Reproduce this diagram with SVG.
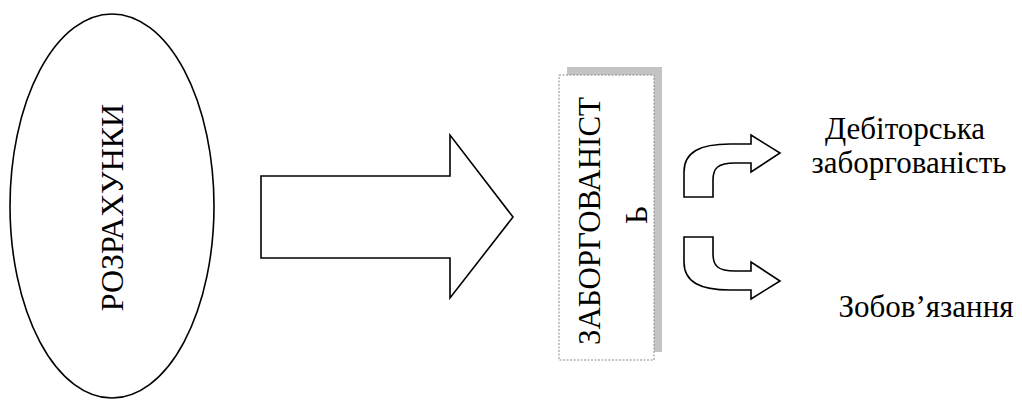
<svg xmlns="http://www.w3.org/2000/svg" width="1022" height="400" viewBox="0 0 1022 400">
<style>
.shape{fill:#fff;stroke:#000;stroke-width:1.6;stroke-linejoin:miter}
.box{fill:#fff;stroke:#8a8a8a;stroke-width:1;stroke-dasharray:2 1.5}
.shadow{fill:#c4c4c4}
</style>
<rect width="1022" height="400" fill="#fff"/>
<g id="node-rozrakhunky">
<ellipse class="shape" cx="112" cy="206" rx="102" ry="192"/>
<text font-family="'Liberation Serif', serif" font-size="32" transform="translate(123,207.5) rotate(-90)" text-anchor="middle">РОЗРАХУНКИ</text>
</g>
<g id="node-zaborhovanist">
<rect class="shadow" x="567" y="67" width="95" height="285"/>
<rect class="box" x="559" y="75" width="95" height="285"/>
<text font-family="'Liberation Serif', serif" font-size="31" transform="translate(600,221) rotate(-90)" text-anchor="middle">ЗАБОРГОВАНІСТ</text>
<text font-family="'Liberation Serif', serif" font-size="31" transform="translate(647,215) rotate(-90)" text-anchor="middle">Ь</text>
</g>
<g id="node-debitorska">
<text font-family="'Liberation Serif', serif" font-size="31" x="905" y="139" text-anchor="middle">Дебіторська</text>
<text font-family="'Liberation Serif', serif" font-size="31" x="909" y="173" text-anchor="middle">заборгованість</text>
</g>
<g id="node-zobovyazannya">
<text font-family="'Liberation Serif', serif" font-size="31" x="926" y="317" text-anchor="middle">Зобов’язання</text>
</g>
<g id="connectors">
<polygon class="shape" points="261,176 450,176 450,135 513,217 450,298 450,258 261,258"/>
<path id="curved-up" class="shape" d="M684,197 L684,172 C684,152 700,144 730,144 L751,144 L751,135 L780,153 L751,172 L751,163 L735,163 C718,163 713,168 713,180 L713,197 Z"/>
<path id="curved-down" class="shape" transform="matrix(1,0,0,-1,0,434)" d="M684,197 L684,172 C684,152 700,144 730,144 L751,144 L751,135 L780,153 L751,172 L751,163 L735,163 C718,163 713,168 713,180 L713,197 Z"/>
</g>
</svg>
